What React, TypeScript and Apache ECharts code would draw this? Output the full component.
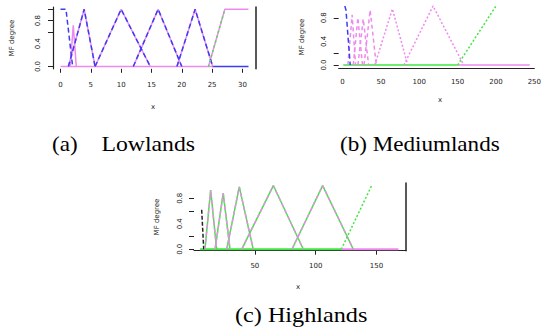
import React, { useEffect, useRef } from "react";
import * as echarts from "echarts";

// (a) Lowlands membership functions
const lowShoulder = [[0, 1], [0.9, 1], [2, 0]];
const lowSmall = [[1.6, 0], [2.1, 0.72], [2.6, 0]];
const lowTriangles = [[1.3, 3.9, 5.7], [5.7, 10, 14.8], [12, 16.1, 20], [19.2, 22.2, 25.1]];
const lowRight = [[24.4, 0], [27.1, 1], [31, 1]];
const lowRise = [[24.4, 0], [27.1, 1]];
const lowBasePink = [[0, 0], [25, 0]];
const lowBaseBlue = [[25, 0], [31, 0]];
const lowXTicks = [0, 5, 10, 15, 20, 25, 30];
const lowYTicks = [0, 0.6, 0.8, 1];

// (b) Mediumlands
const medBlue = [[3, 1], [4.5, 0.93], [10, 0]];
const medTriangles = [[7, 12.5, 17, 0.85], [14, 20, 26, 0.8], [20, 27, 34, 0.78], [28, 36, 44, 0.93], [42, 65, 85, 0.95], [80, 118, 158, 1]];
const medGreenRise = [[150, 0], [200, 1]];
const medBaseGreen = [[1, 0], [150, 0]];
const medBasePink = [[150, 0], [244, 0]];
const medXTicks = [0, 50, 100, 150, 200, 250];
const medYTicks = [0, 0.2, 0.8];

// (c) Highlands
const highBlack = [[6.3, 0.62], [8, 0]];
const highTriangles = [[9, 13.7, 18.6, 0.93], [17.3, 24, 29.6, 0.88], [26.9, 37.2, 48.7, 0.98], [39.2, 65.2, 89.8, 1], [80.5, 105.7, 130.9, 1]];
const highGreenRise = [[121, 0], [146, 1]];
const highBaseGreen = [[5, 0], [121, 0]];
const highBasePink = [[121, 0], [168, 0]];
const highXTicks = [50, 100, 150];
const highYTicks = [0, 0.2, 0.6, 0.8];

const yLabelValues = [0, 0.4, 0.8];
const captions = ["(a)", "Lowlands", "(b) Mediumlands", "(c) Highlands"];

const BLUE = "#3c3cf5";
const PINK = "#ee8aee";
const GREEN = "#3ee83e";
const DARK = "#222222";

function tri(t: number[]) {
  const h = t.length > 3 ? t[3] : 1;
  return [[t[0], 0], [t[1], h], [t[2], 0]];
}

function ln(data: number[][], idx: number, color: string, type: any, width: number, z: number) {
  return {
    type: "line",
    xAxisIndex: idx,
    yAxisIndex: idx,
    data,
    symbol: "none",
    silent: true,
    z,
    lineStyle: { color, width, type },
  };
}

export default function App() {
  const ref = useRef<HTMLDivElement>(null);
  useEffect(() => {
    if (!ref.current) return;
    const chart = echarts.init(ref.current, undefined, { renderer: "svg" });
    const series: any[] = [];
    // a
    series.push(ln(lowBasePink, 0, PINK, "solid", 1.5, 2));
    series.push(ln(lowBaseBlue, 0, BLUE, "solid", 1.5, 2));
    series.push(ln(lowShoulder, 0, BLUE, [5, 3], 1.5, 3));
    series.push(ln(lowSmall, 0, PINK, "solid", 1.5, 2));
    lowTriangles.forEach((t) => {
      series.push(ln(tri(t), 0, PINK, "solid", 1.5, 2));
      series.push(ln(tri(t), 0, BLUE, [5, 3], 1.5, 3));
    });
    series.push(ln(lowRight, 0, PINK, "solid", 1.5, 2));
    series.push(ln(lowRise, 0, GREEN, [2, 3], 1.5, 3));
    // b
    series.push(ln(medBaseGreen, 1, GREEN, "solid", 1.5, 2));
    series.push(ln(medBasePink, 1, PINK, "solid", 1.5, 2));
    series.push(ln(medBlue, 1, BLUE, [5, 3], 1.5, 3));
    medTriangles.forEach((t, i) => {
      series.push(ln(tri(t), 1, PINK, i < 4 ? [4, 3] : [2, 2], 1.5, 2));
    });
    series.push(ln(medGreenRise, 1, GREEN, [2, 2], 1.5, 3));
    // c
    series.push(ln(highBaseGreen, 2, GREEN, "solid", 2, 2));
    series.push(ln(highBasePink, 2, PINK, "solid", 2, 2));
    series.push(ln(highBlack, 2, DARK, [4, 2], 1.5, 3));
    highTriangles.forEach((t) => {
      series.push(ln(tri(t), 2, GREEN, "solid", 1.5, 2));
      series.push(ln(tri(t), 2, PINK, [4, 3], 1.5, 3));
    });
    series.push(ln(highGreenRise, 2, GREEN, [2, 2], 1.5, 3));

    const tickFont = { fontSize: 7, color: DARK, fontFamily: "DejaVu Sans" };
    const xAxisBase = (grid: number, min: number, max: number, ticks: number[], showLine: boolean, showTick: boolean, margin: number) => ({
      type: "value",
      gridIndex: grid,
      min,
      max,
      splitLine: { show: false },
      axisLine: { show: showLine, onZero: false, lineStyle: { color: DARK, width: 1.2 } },
      axisTick: { show: showTick, customValues: ticks, length: 4, lineStyle: { color: DARK } },
      axisLabel: { customValues: ticks, margin, ...tickFont },
    });
    const yAxisBase = (grid: number, min: number, max: number, ticks: number[], showLine: boolean, margin: number) => ({
      type: "value",
      gridIndex: grid,
      min,
      max,
      splitLine: { show: false },
      axisLine: { show: showLine, onZero: false, lineStyle: { color: DARK, width: 1.2 } },
      axisTick: { show: true, customValues: ticks, length: 5, lineStyle: { color: DARK } },
      axisLabel: {
        customValues: yLabelValues,
        rotate: 90,
        margin,
        formatter: (v: number) => v.toFixed(1),
        ...tickFont,
      },
    });
    const rightAxis = (grid: number, min: number, max: number) => ({
      type: "value",
      gridIndex: grid,
      position: "right",
      min,
      max,
      splitLine: { show: false },
      axisLine: { show: true, onZero: false, lineStyle: { color: DARK, width: 1.5 } },
      axisTick: { show: false },
      axisLabel: { show: false },
    });

    const capStyle = { fontSize: 21, fontFamily: "Liberation Serif", fill: "#000" };
    const axTitle = { fontSize: 7, fontFamily: "DejaVu Sans", fill: DARK };

    chart.setOption({
      animation: false,
      grid: [
        { left: 53, top: 7, width: 203, height: 61.8 },
        { left: 338.7, top: 3.6, width: 204, height: 64.4 },
        { left: 194, top: 183, width: 212, height: 67.7 },
      ],
      xAxis: [
        xAxisBase(0, -1.24, 32.24, lowXTicks, false, true, 13),
        xAxisBase(1, -5, 250, medXTicks, true, false, 10),
        xAxisBase(2, 0, 174.2, highXTicks, true, true, 12),
      ],
      yAxis: [
        yAxisBase(0, -0.04, 1.04, lowYTicks, true, 12),
        yAxisBase(1, -0.05, 1.04, medYTicks, false, 11),
        yAxisBase(2, -0.022, 1.04, highYTicks, false, 11),
        rightAxis(0, -0.04, 1.04),
        rightAxis(2, -0.022, 1.04),
      ],
      series,
      graphic: [
        { type: "text", x: 52, y: 144, scaleX: 1.1, style: { text: captions[0], textVerticalAlign: "middle", ...capStyle } },
        { type: "text", x: 101.5, y: 144, scaleX: 1.13, style: { text: captions[1], textVerticalAlign: "middle", ...capStyle } },
        { type: "text", x: 340, y: 144, scaleX: 1.1, style: { text: captions[2], textVerticalAlign: "middle", ...capStyle } },
        { type: "text", x: 235, y: 314, scaleX: 1.1, style: { text: captions[3], textVerticalAlign: "middle", ...capStyle, fontSize: 22 } },
        { type: "text", x: 12, y: 38, rotation: Math.PI / 2, style: { text: "MF degree", textAlign: "center", textVerticalAlign: "middle", ...axTitle } },
        { type: "text", x: 302, y: 37, rotation: Math.PI / 2, style: { text: "MF degree", textAlign: "center", textVerticalAlign: "middle", ...axTitle } },
        { type: "text", x: 157, y: 217, rotation: Math.PI / 2, style: { text: "MF degree", textAlign: "center", textVerticalAlign: "middle", ...axTitle } },
        { type: "text", x: 153, y: 107, style: { text: "x", textAlign: "center", textVerticalAlign: "middle", ...axTitle } },
        { type: "text", x: 440, y: 100, style: { text: "x", textAlign: "center", textVerticalAlign: "middle", ...axTitle } },
        { type: "text", x: 298, y: 287, style: { text: "x", textAlign: "center", textVerticalAlign: "middle", ...axTitle } },
      ],
    });
    return () => chart.dispose();
  }, []);
  return (
    <div
      ref={ref}
      style={{ position: "fixed", left: 0, top: 0, width: 544, height: 330, background: "#fff" }}
    />
  );
}
